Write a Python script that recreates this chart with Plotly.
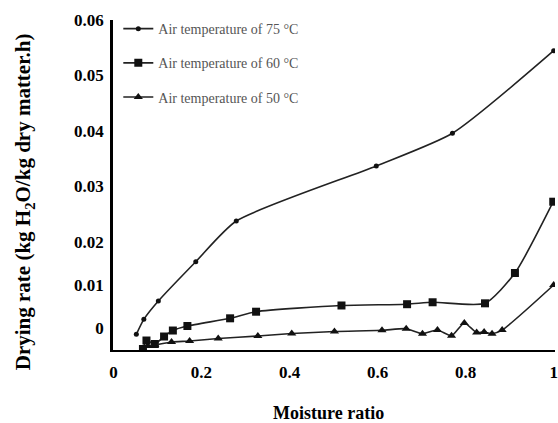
import plotly.graph_objects as go

# Moisture ratio (x) and drying rate (y, in the chart's displayed axis units)
x75 = [0.052, 0.069, 0.102, 0.187, 0.279, 0.597, 0.770, 1.000]
y75 = [0.00337, 0.00607, 0.00937, 0.01645, 0.02378, 0.03369, 0.03959, 0.05447]

x60 = [0.067, 0.075, 0.094, 0.115, 0.135, 0.168, 0.265, 0.324, 0.518, 0.667, 0.725, 0.844, 0.912, 0.999]
y60 = [0.00072, 0.00225, 0.00162, 0.00297, 0.00405, 0.00486, 0.00625, 0.00744, 0.00856, 0.00879, 0.00914, 0.00895, 0.01441, 0.02726]

x50 = [0.067, 0.078, 0.094, 0.132, 0.173, 0.238, 0.328, 0.405, 0.502, 0.610, 0.665, 0.702, 0.736, 0.768,
       0.797, 0.825, 0.842, 0.860, 0.883, 1.000]
y50 = [0.00072, 0.00126, 0.00144, 0.00198, 0.00216, 0.00261, 0.00306, 0.00351, 0.00387, 0.00409, 0.00438,
       0.00348, 0.00414, 0.00310, 0.00541, 0.00369, 0.00378, 0.00348, 0.00414, 0.01225]

names = ["Air temperature of 75 °C", "Air temperature of 60 °C", "Air temperature of 50 °C"]

x_ticks = [0, 0.2, 0.4, 0.6, 0.8, 1]
x_ticktext = ["0", "0.2", "0.4", "0.6", "0.8", "1"]
y_ticks = [0.0045, 0.01225, 0.02, 0.03, 0.04, 0.05, 0.06]
y_ticktext = ["0", "0.01", "0.02", "0.03", "0.04", "0.05", "0.06"]

line_color = "#222222"
fig = go.Figure()
series = [(x75, y75, "circle", 5), (x60, y60, "square", 8), (x50, y50, "triangle-up", 8)]
for i, (xs, ys, sym, sz) in enumerate(series):
    fig.add_trace(go.Scatter(
        x=xs, y=ys, mode="lines+markers", name=names[i], legendgroup=f"g{i}",
        line=dict(color=line_color, width=1.6, shape="spline", smoothing=0.6),
        marker=dict(symbol=sym, size=sz, color="#111111"),
    ))

serif = "Liberation Serif"
fig.update_layout(
    width=558, height=423,
    margin=dict(l=113, r=0, t=20, b=73),
    paper_bgcolor="white", plot_bgcolor="white",
    showlegend=True,
    legend=dict(x=0.012, y=1.021, xanchor="left", yanchor="top",
                font=dict(family=serif, size=14, color="#555555"),
                tracegroupgap=13, bgcolor="rgba(0,0,0,0)"),
    xaxis=dict(range=[-0.001, 1.003], tickvals=x_ticks, ticktext=x_ticktext,
               showgrid=False, zeroline=False, showline=True, linecolor="black", linewidth=2,
               ticks="", ticklabelstandoff=6, ticklabeloverflow="allow",
               tickfont=dict(family=serif, size=17, color="black", weight="bold")),
    yaxis=dict(range=[0.00054, 0.06], tickvals=y_ticks, ticktext=y_ticktext,
               showgrid=False, zeroline=False, showline=True, linecolor="black", linewidth=2.5,
               ticks="", ticklabelstandoff=3,
               tickfont=dict(family=serif, size=17, color="black", weight="bold")),
    annotations=[
        dict(text="Moisture ratio", xref="paper", yref="paper", x=0.487, y=-0.19,
             xanchor="center", yanchor="middle", showarrow=False,
             font=dict(family=serif, size=18, color="black", weight="bold")),
        dict(text="Drying rate (kg H<sub>2</sub>O/kg dry matter.h)", xref="paper", yref="paper",
             x=-0.202, y=0.45, xanchor="center", yanchor="middle", textangle=-90, showarrow=False,
             font=dict(family=serif, size=21, color="black", weight="bold")),
    ],
)

fig.write_html("out.html", config={"displayModeBar": False},
               post_script="document.body.style.margin='0';document.body.style.overflow='hidden';")
